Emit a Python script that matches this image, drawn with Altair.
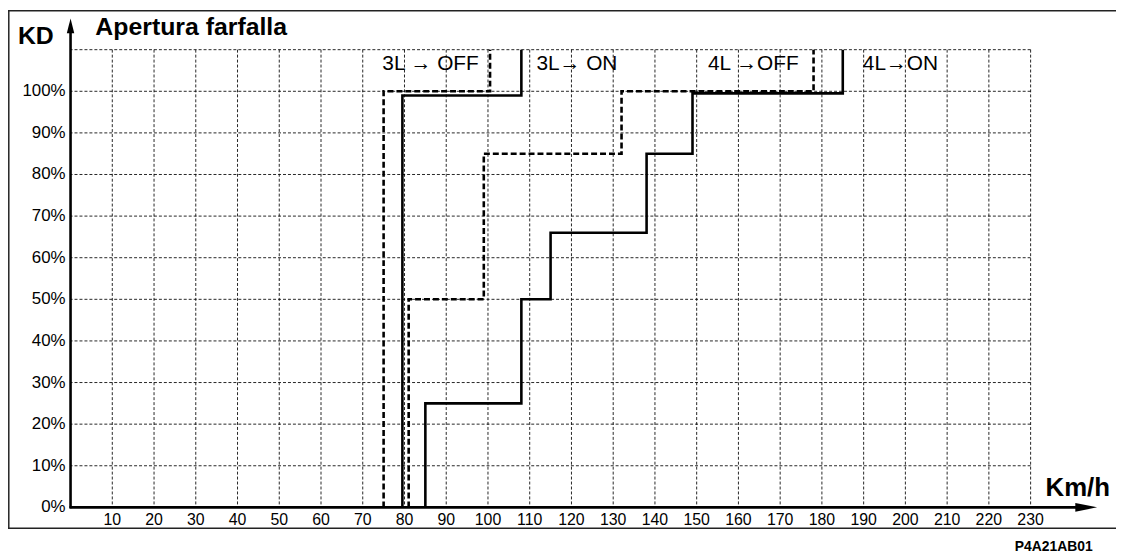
import altair as alt
import pandas as pd

# ---------------- data ----------------
x_ticks = list(range(10, 240, 10))          # km/h grid / labels
y_ticks = list(range(10, 120, 10))          # % grid lines
y_label_vals = list(range(0, 110, 10))      # % labels

curve_names = ["3L OFF", "3L ON", "4L OFF", "4L ON"]
curve_styles = ["dashed", "solid", "dashed", "solid"]
curve_speed = [
    [75, 75, 100.5, 100.5],
    [79.5, 79.5, 108, 108],
    [81, 81, 99, 99, 132, 132, 178, 178],
    [85, 85, 108, 108, 115, 115, 138, 138, 149, 149, 185, 185],
]
curve_kd = [
    [0, 100, 100, 110],
    [0, 99, 99, 110],
    [0, 50, 50, 85, 85, 100, 100, 110],
    [0, 25, 25, 50, 50, 66, 66, 85, 85, 99.5, 99.5, 110],
]

label_texts = ["3L \u2192 OFF", "3L\u2192 ON", "4L \u2192OFF", "4L\u2192ON"]
label_speed = [74.7, 111.6, 152.7, 189.8]
label_kd = [106.6, 106.6, 106.6, 106.6]

title_text = "Apertura farfalla"
y_title = "KD"
x_title = "Km/h"
code_text = "P4A21AB01"

# ---------------- tables ----------------
rows = []
for name, style, xs_, ys_ in zip(curve_names, curve_styles, curve_speed, curve_kd):
    for i, (a, b) in enumerate(zip(xs_, ys_)):
        rows.append({"name": name, "style": style, "idx": i, "speed": a, "kd": b})
curves = pd.DataFrame(rows)

W, H = 967, 461
FONT = "Liberation Sans"
xs = alt.Scale(domain=[0, 230], nice=False, zero=False)
ys = alt.Scale(domain=[0, 110], nice=False, zero=False)
one = pd.DataFrame({"a": [0]})

grid_style = dict(color="#000", strokeWidth=1, strokeDash=[3, 2], opacity=0.85)

vgrid = alt.Chart(pd.DataFrame({"v": x_ticks})).mark_rule(**grid_style).encode(
    x=alt.X("v:Q", scale=xs, axis=None)
)
hgrid = alt.Chart(pd.DataFrame({"v": y_ticks})).mark_rule(**grid_style).encode(
    y=alt.Y("v:Q", scale=ys, axis=None)
)

solid = alt.Chart(curves).transform_filter(alt.datum.style == "solid").mark_line(
    color="black", strokeWidth=2.6, strokeJoin="miter"
).encode(
    x=alt.X("speed:Q", scale=xs, axis=None),
    y=alt.Y("kd:Q", scale=ys, axis=None),
    detail="name:N",
    order="idx:Q",
)
dashed = alt.Chart(curves).transform_filter(alt.datum.style == "dashed").mark_line(
    color="black", strokeWidth=2.6, strokeDash=[6, 3], strokeJoin="miter"
).encode(
    x=alt.X("speed:Q", scale=xs, axis=None),
    y=alt.Y("kd:Q", scale=ys, axis=None),
    detail="name:N",
    order="idx:Q",
)

xlab = alt.Chart(pd.DataFrame({"v": x_ticks})).mark_text(
    font=FONT, fontSize=16, color="black", align="center", baseline="middle"
).encode(x=alt.X("v:Q", scale=xs, axis=None), y=alt.value(474), text="v:Q")

ylab_df = pd.DataFrame({"v": y_label_vals, "t": [f"{v}%" for v in y_label_vals]})
ylab = alt.Chart(ylab_df).mark_text(
    font=FONT, fontSize=17, color="black", align="right", baseline="middle"
).encode(x=alt.value(-5), y=alt.Y("v:Q", scale=ys, axis=None), text="t:N")

ann = alt.Chart(pd.DataFrame({"t": label_texts, "s": label_speed, "k": label_kd})).mark_text(
    font=FONT, fontSize=21, color="black", align="left", baseline="middle"
).encode(x=alt.X("s:Q", scale=xs, axis=None), y=alt.Y("k:Q", scale=ys, axis=None), text="t:N")

# axes with arrows
yaxis = alt.Chart(one).mark_rule(color="black", strokeWidth=2.6).encode(
    x=alt.value(0), y=alt.value(462), y2=alt.value(-18)
)
xaxis = alt.Chart(one).mark_rule(color="black", strokeWidth=2.6).encode(
    x=alt.value(-1), x2=alt.value(1016), y=alt.value(461)
)
yarrow = alt.Chart(one).mark_point(
    shape="M0,-1L0.5,1L-0.5,1Z", size=225, filled=True, color="black", opacity=1, strokeWidth=0
).encode(x=alt.value(0), y=alt.value(-24))
xarrow = alt.Chart(one).mark_point(
    shape="M1,0L-1,-0.4L-1,0.4Z", size=484, filled=True, color="black", opacity=1, strokeWidth=0
).encode(x=alt.value(1023), y=alt.value(461))

# frame
frame_style = dict(color="#222", strokeWidth=1.5)
f_left = alt.Chart(one).mark_rule(**frame_style).encode(
    x=alt.value(-62.2), y=alt.value(-40), y2=alt.value(482)
)
f_top = alt.Chart(one).mark_rule(**frame_style).encode(
    x=alt.value(-63), x2=alt.value(1053), y=alt.value(-39.2)
)
f_bot = alt.Chart(one).mark_rule(**frame_style).encode(
    x=alt.value(-63), x2=alt.value(1053), y=alt.value(482)
)

def label(txt, x, y, size, weight="bold", align="left", baseline="middle"):
    return alt.Chart(one).mark_text(
        text=txt, font=FONT, fontSize=size, fontWeight=weight, color="black",
        align=align, baseline=baseline
    ).encode(x=alt.value(x), y=alt.value(y))

t_title = label(title_text, 25, -23, 25)
t_kd = label(y_title, -35, -14, 25, align="center")
t_kmh = label(x_title, 982, 442, 26)
t_code = label(code_text, 951, 505, 14, baseline="alphabetic")

chart = alt.layer(
    vgrid, hgrid, dashed, solid, xlab, ylab, ann,
    yaxis, xaxis, yarrow, xarrow, f_left, f_top, f_bot,
    t_title, t_kd, t_kmh, t_code,
).properties(
    width=W, height=H,
    autosize=alt.AutoSizeParams(type="none"),
    padding={"left": 63, "top": 40, "right": 86, "bottom": 46},
    background="white",
).configure_view(stroke=None)

chart.save("out.html", embed_options={"renderer": "svg", "actions": False})
